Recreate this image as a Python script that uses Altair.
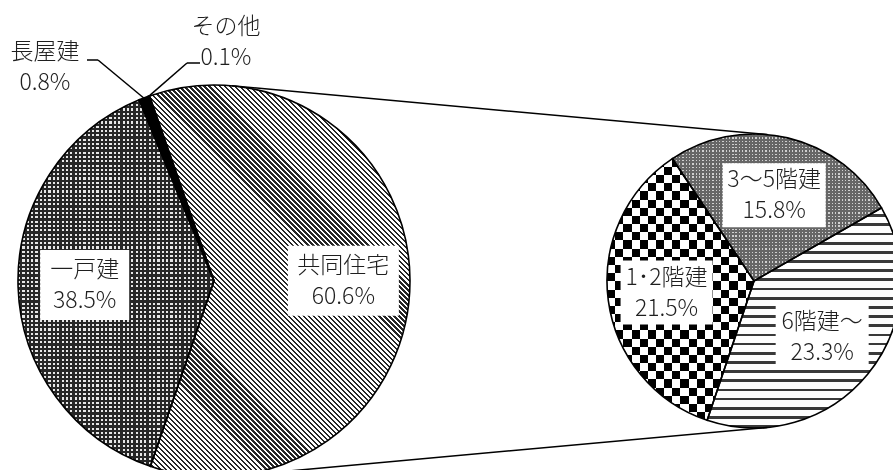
import math
import altair as alt
import pandas as pd

# ---------------- data ----------------
main_cats = ["共同住宅", "一戸建", "長屋建", "その他"]
main_vals = [60.6, 38.5, 0.8, 0.1]
sub_cats = ["3～5階建", "6階建～", "1･2階建"]
sub_vals = [15.8, 23.3, 21.5]

# ---------------- layout ----------------
W, H = 893, 470
PIE1 = dict(cx=214.0, cy=281.0, r=196.0, start=340.8, lab=0.66)
PIE2 = dict(cx=754.0, cy=281.0, r=147.0, start=326.3, lab=0.60)
FONT = "Noto Sans CJK JP"
FS = 23
TXT = "#1f1f1f"
BOX = {"共同住宅": (111, 70), "一戸建": (89, 70),
       "3～5階建": (103, 64), "1･2階建": (92, 64), "6階建～": (93, 62)}
OUT = {"長屋建": dict(elbow=(98, 60), end=(87, 60), label=(45, 67)),
       "その他": dict(elbow=(187, 63), end=(200, 63), label=(226, 42))}


def slices(cats, vals, pie):
    total = sum(vals)
    rows, acc = [], 0.0
    for c, v in zip(cats, vals):
        a0 = pie["start"] + acc / total * 360
        a1 = pie["start"] + (acc + v) / total * 360
        rows.append(dict(name=c, val=v, s=acc, e=acc + v, a0=a0, a1=a1, pct=f"{v:.1f}%"))
        acc += v
    return pd.DataFrame(rows), total


def pt(pie, ang, rr):
    a = math.radians(ang)
    return pie["cx"] + rr * math.sin(a), pie["cy"] - rr * math.cos(a)


def bbox(pie, a0, a1):
    pts = [(pie["cx"], pie["cy"]), pt(pie, a0, pie["r"]), pt(pie, a1, pie["r"])]
    k = math.ceil(a0 / 90)
    while k * 90 < a1:
        pts.append(pt(pie, k * 90, pie["r"]))
        k += 1
    xs = [p[0] for p in pts]
    ys = [p[1] for p in pts]
    return max(xs) - min(xs), max(ys) - min(ys)


def stops(n, ca, cb, fb):
    out = []
    for k in range(n):
        o0, o1, o2 = k / n, (k + 1 - fb) / n, (k + 1) / n
        out += [{"offset": round(o0, 5), "color": ca}, {"offset": round(o1, 5), "color": ca},
                {"offset": round(o1, 5), "color": cb}, {"offset": round(o2, 5), "color": cb}]
    return out


def grad_h(h, period, ca, cb, fb):
    n = max(1, round(h / period))
    return {"gradient": "linear", "x1": 0, "y1": 0, "x2": 0, "y2": 1, "stops": stops(n, ca, cb, fb)}


def grad_v(w, period, ca, cb, fb):
    n = max(1, round(w / period))
    return {"gradient": "linear", "x1": 0, "y1": 0, "x2": 1, "y2": 0, "stops": stops(n, ca, cb, fb)}


def grad_diag(w, h, period, ca, cb, fb):
    a = (w + h) / (w * w + h * h)
    n = max(1, round((w + h) / math.sqrt(2) / period))
    return {"gradient": "linear", "x1": 0, "y1": 1, "x2": a * w, "y2": 1 - a * h,
            "stops": stops(n, ca, cb, fb)}


df1, tot1 = slices(main_cats, main_vals, PIE1)
df2, tot2 = slices(sub_cats, sub_vals, PIE2)


def theta_enc(pie, total):
    s = math.radians(pie["start"])
    return alt.Theta("s:Q", scale=alt.Scale(domain=[0, total], range=[s, s + 2 * math.pi], nice=False))


def wedge(df, pie, total, cat, fill, blend=None):
    kw = dict(outerRadius=pie["r"], fill=fill)
    if blend:
        kw["blend"] = blend
    return (alt.Chart(df).transform_filter(alt.datum.name == cat).mark_arc(**kw)
            .encode(theta=theta_enc(pie, total), theta2="e:Q",
                    x=alt.value(pie["cx"]), y=alt.value(pie["cy"])))


def outline(df, pie, total):
    return (alt.Chart(df).mark_arc(outerRadius=pie["r"], fill="white", fillOpacity=0,
                                   stroke="black", strokeWidth=1.6)
            .encode(theta=theta_enc(pie, total), theta2="e:Q",
                    x=alt.value(pie["cx"]), y=alt.value(pie["cy"])))


def row(df, cat):
    return df[df["name"] == cat].iloc[0]


def bb(df, pie, cat):
    r = row(df, cat)
    return bbox(pie, r["a0"], r["a1"])


layers = []
# main pie
w, h = bb(df1, PIE1, "共同住宅")
layers.append(wedge(df1, PIE1, tot1, "共同住宅", grad_diag(w, h, 3.54, "#ffffff", "#262626", 0.45)))
w, h = bb(df1, PIE1, "一戸建")
layers.append(wedge(df1, PIE1, tot1, "一戸建", grad_h(h, 4.33, "#e6e6e6", "#262626", 0.5)))
layers.append(wedge(df1, PIE1, tot1, "一戸建", grad_v(w, 4.33, "#ffffff", "#262626", 0.5), "darken"))
layers.append(wedge(df1, PIE1, tot1, "長屋建", "#000000"))
layers.append(wedge(df1, PIE1, tot1, "その他", "#ffffff"))
layers.append(outline(df1, PIE1, tot1))
# second pie
w, h = bb(df2, PIE2, "3～5階建")
layers.append(wedge(df2, PIE2, tot2, "3～5階建", grad_h(h, 3.3, "#d0d0d0", "#666666", 0.6)))
layers.append(wedge(df2, PIE2, tot2, "3～5階建", grad_v(w, 3.3, "#ffffff", "#666666", 0.6), "darken"))
w, h = bb(df2, PIE2, "6階建～")
layers.append(wedge(df2, PIE2, tot2, "6階建～", grad_h(h, 9.0, "#ffffff", "#3a3a3a", 0.3)))
w, h = bb(df2, PIE2, "1･2階建")
layers.append(wedge(df2, PIE2, tot2, "1･2階建", grad_h(h, 16.8, "#ffffff", "#000000", 0.5)))
layers.append(wedge(df2, PIE2, tot2, "1･2階建", grad_v(w, 16.8, "#ffffff", "#000000", 0.5), "difference"))
layers.append(outline(df2, PIE2, tot2))

# connector lines: external common tangents of the two circles
c1x, c1y, r1 = PIE1["cx"], PIE1["cy"], PIE1["r"]
c2x, c2y, r2 = PIE2["cx"], PIE2["cy"], PIE2["r"]
d = c2x - c1x
sn = (r1 - r2) / d
cs = math.sqrt(1 - sn * sn)
segs = []
for sgn in (-1, 1):
    segs.append(dict(x=c1x + r1 * sn, y=c1y + sgn * r1 * cs, x2=c2x + r2 * sn, y2=c2y + sgn * r2 * cs))
# leader lines for the small slices
for cat, o in OUT.items():
    r = row(df1, cat)
    px, py = pt(PIE1, (r["a0"] + r["a1"]) / 2, r1)
    segs.append(dict(x=px, y=py, x2=o["elbow"][0], y2=o["elbow"][1]))
    segs.append(dict(x=o["elbow"][0], y=o["elbow"][1], x2=o["end"][0], y2=o["end"][1]))
seg_df = pd.DataFrame(segs)

sx = alt.Scale(domain=[0, W], range=[0, W], nice=False, zero=False)
sy = alt.Scale(domain=[0, H], range=[0, H], nice=False, zero=False)

layers.append(alt.Chart(seg_df).mark_rule(color="black", strokeWidth=1.5).encode(
    x=alt.X("x:Q", scale=sx, axis=None), y=alt.Y("y:Q", scale=sy, axis=None),
    x2="x2:Q", y2="y2:Q"))

# label boxes and texts
boxes, texts = [], []
for df, pie in ((df1, PIE1), (df2, PIE2)):
    for _, r in df.iterrows():
        nm = r["name"]
        if nm in BOX:
            lx, ly = pt(pie, (r["a0"] + r["a1"]) / 2, pie["r"] * pie["lab"])
            bw, bh = BOX[nm]
            boxes.append(dict(x=lx - bw / 2, x2=lx + bw / 2, y=ly - bh / 2, y2=ly + bh / 2))
        elif nm in OUT:
            lx, ly = OUT[nm]["label"]
        else:
            continue
        texts.append(dict(x=lx, y=ly - 15, t=nm))
        texts.append(dict(x=lx, y=ly + 16, t=r["pct"]))

layers.append(alt.Chart(pd.DataFrame(boxes)).mark_rect(fill="white").encode(
    x=alt.X("x:Q", scale=sx, axis=None), y=alt.Y("y:Q", scale=sy, axis=None),
    x2="x2:Q", y2="y2:Q"))
layers.append(alt.Chart(pd.DataFrame(texts)).mark_text(
    font=FONT, fontSize=FS, fontWeight=300, color=TXT, align="center", baseline="middle").encode(
    x=alt.X("x:Q", scale=sx, axis=None), y=alt.Y("y:Q", scale=sy, axis=None), text="t:N"))

chart = (alt.layer(*layers)
         .resolve_scale(theta="independent")
         .properties(width=W, height=H, padding=0, autosize=alt.AutoSizeParams(type="none"),
                     background="white")
         .configure_view(strokeWidth=0))

chart.save("out.html", embed_options={"renderer": "svg", "actions": False})
